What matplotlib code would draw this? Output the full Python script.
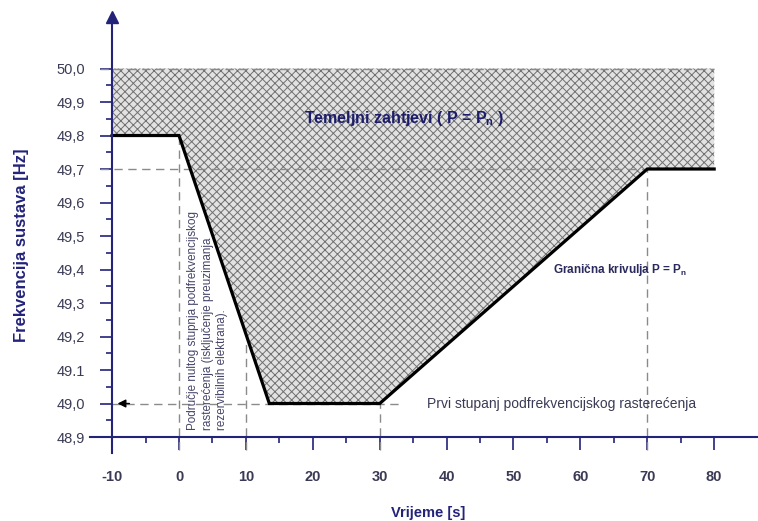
import matplotlib
matplotlib.use("Agg")
import matplotlib.pyplot as plt
import numpy as np

plt.rcParams['font.family'] = ['Liberation Sans', 'DejaVu Sans']

# Data
curve_t = [-10, 0, 13.5, 30, 70, 80]
curve_f = [49.8, 49.8, 49.0, 49.0, 49.7, 49.7]
x_ticks = [-10, 0, 10, 20, 30, 40, 50, 60, 70, 80]
x_labels = ["-10", "0", "10", "20", "30", "40", "50", "60", "70", "80"]
y_ticks = [48.9, 49.0, 49.1, 49.2, 49.3, 49.4, 49.5, 49.6, 49.7, 49.8, 49.9, 50.0]
y_labels = ["48,9", "49,0", "49.1", "49,2", "49,3", "49,4", "49,5", "49,6", "49,7", "49,8", "49,9", "50,0"]
f_top = 50.0
f_ref = 49.7
f_stage1 = 49.0
t_marks = [0, 10, 30, 70]
t_marks_top = [49.8, 49.19, 49.0, 49.7]

NAVY = "#23237a"
TXT = "#3a3a55"

fig = plt.figure(figsize=(7.58, 5.21), dpi=100)
ax = fig.add_axes([0, 0, 1, 1])
ax.set_xlim(-26.76, 86.55)
ax.set_ylim(48.6493, 50.2045)
ax.patch.set_alpha(0)

# hatched region
poly_t = [curve_t[0]] + curve_t + [curve_t[-1]]
poly_f = [f_top] + curve_f + [f_top]
plt.rcParams['hatch.linewidth'] = 0.7
ax.fill(poly_t, poly_f, facecolor="#e2e2e2", edgecolor="#707070", hatch="xxxx", linewidth=0, zorder=1)

dash = dict(color="#8a8a8a", linestyle=(0, (6, 4)), linewidth=1.0, zorder=2)
ax.plot([-11.8, 80], [f_top, f_top], **dash)
ax.plot([-11.8, 70], [f_ref, f_ref], **dash)
ax.plot([-10, 33.5], [f_stage1, f_stage1], **dash)
for t, top in zip(t_marks, t_marks_top):
    ax.plot([t, t], [48.86, top], **dash)

# arrow at 49.0
ax.annotate("", xy=(-9.6, f_stage1), xytext=(-7.0, f_stage1),
            arrowprops=dict(arrowstyle="-|>", color="black", lw=1.0, mutation_scale=12), zorder=4)

# curve
ax.plot(curve_t, curve_f, color="black", linewidth=2.3, zorder=5, solid_joinstyle="miter")

# axes styling
for s in ["top", "right"]:
    ax.spines[s].set_visible(False)
ax.spines["left"].set_position(("data", -10))
ax.spines["bottom"].set_position(("data", 48.9))
ax.spines["left"].set_bounds(48.852, 50.15)
ax.spines["bottom"].set_bounds(-13.3, 86.55)
for s in ["left", "bottom"]:
    ax.spines[s].set_color(NAVY)
    ax.spines[s].set_linewidth(1.5)
    ax.spines[s].set_zorder(6)
ax.plot([-10], [50.155], marker="^", color=NAVY, markersize=8, clip_on=False, zorder=7)

ax.set_xticks(x_ticks, x_labels)
ax.set_xticks(np.arange(-5, 85, 10), minor=True)
ax.set_yticks(y_ticks, y_labels)
ax.set_yticks(np.arange(48.95, 50.0, 0.1), minor=True)
ax.tick_params(axis="x", which="major", direction="out", length=9.5, width=1.2, color=NAVY,
               pad=14, labelsize=10.5, labelcolor=TXT)
ax.tick_params(axis="x", which="minor", direction="out", length=4.5, width=1.2, color=NAVY)
ax.tick_params(axis="y", which="major", direction="out", length=8.5, width=1.2, color=NAVY,
               pad=11, labelsize=10.5, labelcolor=TXT)
ax.tick_params(axis="y", which="minor", direction="out", length=4, width=1.2, color=NAVY)
for lab in ax.get_xticklabels():
    lab.set_fontweight("bold")

# labels
ax.text(0.029, 0.53, "Frekvencija sustava [Hz]", transform=ax.transAxes, rotation=90,
        ha="center", va="center", fontsize=12, fontweight="bold", color=NAVY)
ax.text(0.565, 0.0154, "Vrijeme [s]", transform=ax.transAxes, ha="center", va="center",
        fontsize=10.5, fontweight="bold", color=NAVY)

ax.text(33.6, 49.852, "Temeljni zahtjevi ( P = P$_\\mathregular{n}$ )", ha="center", va="center",
        fontsize=11.5, fontweight="bold", color="#1c1c6a", zorder=8)
ax.text(55.9, 49.40, "Granična krivulja P = P$_\\mathregular{n}$", ha="left", va="center",
        fontsize=8.5, fontweight="bold", color="#2a2a5e", zorder=8)
ax.text(37.0, 49.0, "Prvi stupanj podfrekvencijskog rasterećenja", ha="left", va="center",
        fontsize=10, color=TXT, zorder=8)
ax.text(1.2, 48.92,
        "Područje nultog stupnja podfrekvencijskog\nrasterećenja (isključenje preuzimanja\nrezervibilnih elektrana).",
        rotation=90, ha="left", va="bottom", fontsize=8.4, color="#45456a", linespacing=1.3,
        multialignment="left", zorder=8)

fig.savefig("out.png", dpi=100)
